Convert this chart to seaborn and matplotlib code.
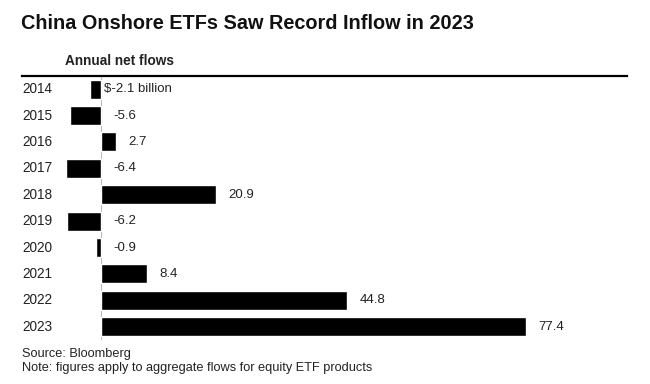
import matplotlib.pyplot as plt
import seaborn as sns
import pandas as pd

years = ['2014', '2015', '2016', '2017', '2018', '2019', '2020', '2021', '2022', '2023']
flows = [-2.1, -5.6, 2.7, -6.4, 20.9, -6.2, -0.9, 8.4, 44.8, 77.4]
labels = ['$-2.1 billion', '-5.6', '2.7', '-6.4', '20.9', '-6.2', '-0.9', '8.4', '44.8', '77.4']

df = pd.DataFrame({'year': years, 'flow': flows})

sns.set_style('white')
plt.rcParams['font.family'] = ['Liberation Sans', 'DejaVu Sans']

fig = plt.figure(figsize=[6.5, 3.84], dpi=100)
ax = fig.add_axes([0.034, 0.115, 0.931, 0.687])

sns.barplot(data=df, x='flow', y='year', orient='h', color='black',
            width=0.72, saturation=1, ax=ax)
ax.axvline(0, color='#bbbbbb', lw=0.8, zorder=0)

ax.set_xlim(-14.4, 95.8)
ax.set_ylim(9.5, -0.5)

# value labels
for i, (v, lab) in enumerate(zip(flows, labels)):
    off = 0.6 if i == 0 else 2.2
    ax.text(max(v, 0) + off, i, lab, va='center', ha='left', fontsize=9.5, color='#222222')

# year labels at the left edge
for i, y in enumerate(years):
    ax.text(0, i, y, va='center', ha='left', fontsize=9.8, color='#222222',
            transform=ax.get_yaxis_transform())

ax.set_xticks([])
ax.set_yticks([])
ax.set_xlabel('')
ax.set_ylabel('')
for s in ['left', 'right', 'bottom']:
    ax.spines[s].set_visible(False)
ax.spines['top'].set_linewidth(1.6)
ax.spines['top'].set_color('black')

fig.text(0.033, 0.94, 'China Onshore ETFs Saw Record Inflow in 2023',
         fontsize=14.3, fontweight='bold', va='center', ha='left', color='#111111')
fig.text(0.1, 0.842, 'Annual net flows', fontsize=9.8, fontweight='bold', va='center', ha='left',
         color='#222222')
fig.text(0.034, 0.078, 'Source: Bloomberg', fontsize=9.2, va='center', ha='left', color='#222222')
fig.text(0.034, 0.041, 'Note: figures apply to aggregate flows for equity ETF products',
         fontsize=9.2, va='center', ha='left', color='#222222')

plt.savefig('out.png', dpi=100)
plt.close()
